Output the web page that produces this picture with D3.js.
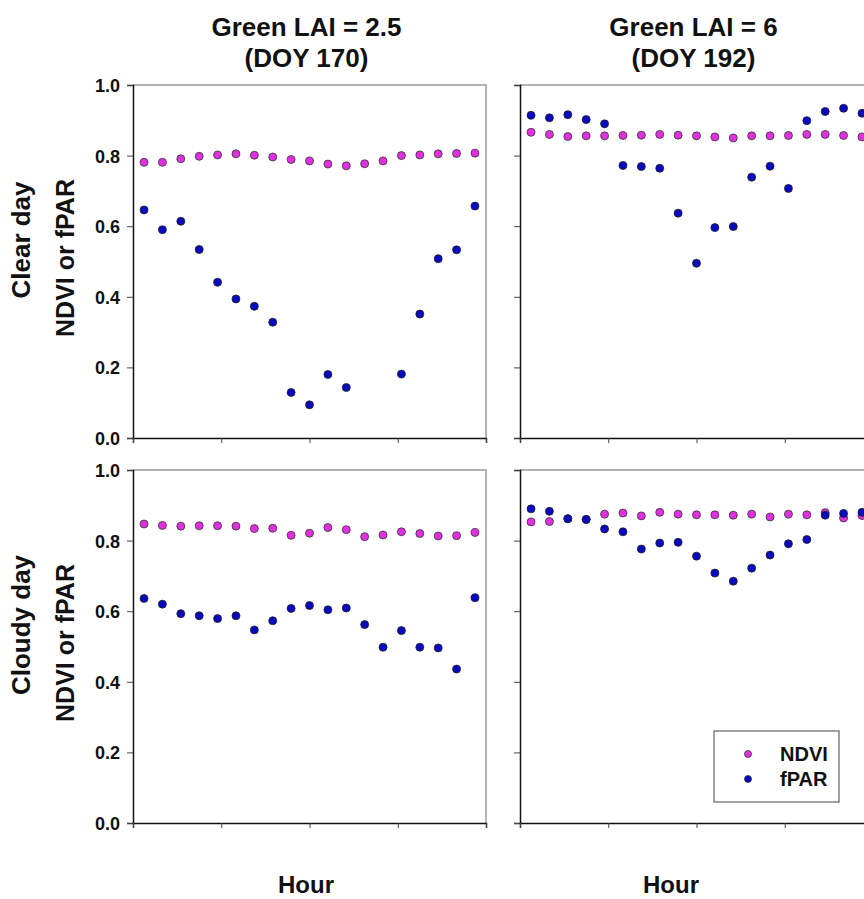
<!DOCTYPE html>
<html>
<head>
<meta charset="utf-8">
<script src="https://cdn.jsdelivr.net/npm/d3@7"></script>
<style>
  body { margin: 0; background: #fff; }
  svg { display: block; font-family: "Liberation Sans", Arial, sans-serif; }
  .tick-label { font-size: 18px; font-weight: bold; fill: #111; }
</style>
</head>
<body>
<div id="chart"></div>
<script>
// hour of each observation (half-hour steps)
const hours = [7.5, 8, 8.5, 9, 9.5, 10, 10.5, 11, 11.5, 12, 12.5, 13, 13.5, 14, 14.5, 15, 15.5, 16, 16.5];
const hourTicks = [7.2, 9.6, 12, 14.4, 16.8];
const yTicks = [0, 0.2, 0.4, 0.6, 0.8, 1.0];

const columnTitles = [['Green LAI = 2.5', '(DOY 170)'], ['Green LAI = 6', '(DOY 192)']];
const rowTitles = ['Clear day', 'Cloudy day'];

// clear day, LAI 2.5
const clearLowNdvi = [0.781, 0.781, 0.791, 0.798, 0.802, 0.805, 0.801, 0.796, 0.789, 0.785, 0.776, 0.771, 0.777, 0.785, 0.800, 0.802, 0.805, 0.806, 0.807];
const clearLowFpar = [0.646, 0.590, 0.614, 0.534, 0.441, 0.394, 0.373, 0.328, 0.129, 0.094, 0.180, 0.143, null, null, 0.181, 0.351, 0.508, 0.533, 0.657];
// clear day, LAI 6
const clearHighNdvi = [0.866, 0.860, 0.854, 0.856, 0.856, 0.857, 0.858, 0.860, 0.858, 0.856, 0.853, 0.850, 0.856, 0.856, 0.857, 0.860, 0.860, 0.857, 0.853];
const clearHighFpar = [0.914, 0.907, 0.916, 0.902, 0.890, 0.772, 0.769, 0.764, 0.637, 0.495, 0.596, 0.599, 0.739, 0.770, 0.707, 0.899, 0.925, 0.934, 0.920];
// cloudy day, LAI 2.5
const cloudyLowNdvi = [0.847, 0.843, 0.841, 0.842, 0.842, 0.841, 0.834, 0.835, 0.815, 0.821, 0.837, 0.831, 0.811, 0.816, 0.825, 0.820, 0.813, 0.814, 0.823];
const cloudyLowFpar = [0.636, 0.620, 0.593, 0.587, 0.579, 0.587, 0.547, 0.573, 0.608, 0.616, 0.604, 0.609, 0.562, 0.498, 0.545, 0.498, 0.496, 0.436, 0.638];
// cloudy day, LAI 6
const cloudyHighNdvi = [0.853, 0.854, 0.862, 0.860, 0.875, 0.878, 0.870, 0.880, 0.875, 0.873, 0.873, 0.872, 0.875, 0.867, 0.875, 0.873, 0.879, 0.864, 0.871];
const cloudyHighFpar = [0.890, 0.883, 0.862, 0.860, 0.833, 0.825, 0.776, 0.793, 0.795, 0.756, 0.708, 0.685, 0.722, 0.759, 0.791, 0.803, 0.872, 0.877, 0.880];

const panels = [
  {row: 0, col: 0, ndvi: clearLowNdvi, fpar: clearLowFpar},
  {row: 0, col: 1, ndvi: clearHighNdvi, fpar: clearHighFpar},
  {row: 1, col: 0, ndvi: cloudyLowNdvi, fpar: cloudyLowFpar},
  {row: 1, col: 1, ndvi: cloudyHighNdvi, fpar: cloudyHighFpar}
];

const ndviColor = '#e030e0',
      fparColor = '#0808c0',
      width = 353,
      height = 353,
      colX = [133, 520],
      rowY = [85, 470];

const svg = d3.select('#chart').append('svg')
  .attr('width', 864)
  .attr('height', 899);

const x = d3.scaleLinear().domain([7.2, 16.8]).range([0, width]);
const y = d3.scaleLinear().domain([0, 1]).range([height, 0]);

panels.forEach(p => {
  const g = svg.append('g')
    .attr('transform', 'translate(' + colX[p.col] + ',' + rowY[p.row] + ')');

  // gray top and right frame
  g.append('path')
    .attr('d', 'M0,0H' + width + 'V' + height)
    .attr('fill', 'none')
    .attr('stroke', '#9a9a9a')
    .attr('stroke-width', 1.5);

  const yAxis = d3.axisLeft(y).tickValues(yTicks).tickSize(6)
    .tickFormat(p.col === 0 ? d3.format('.1f') : '');
  const gy = g.append('g').call(yAxis);
  gy.select('.domain').attr('stroke', '#111').attr('stroke-width', 1.5);
  gy.selectAll('.tick line').attr('stroke', '#444');
  gy.selectAll('.tick text')
    .attr('class', 'tick-label')
    .attr('x', -13)
    .attr('dy', '0.36em')
    .style('font-family', null)
    .style('font-size', null);

  const xAxis = d3.axisBottom(x).tickValues(hourTicks).tickSize(5).tickFormat('');
  const gx = g.append('g').attr('transform', 'translate(0,' + height + ')').call(xAxis);
  gx.select('.domain').attr('stroke', '#111').attr('stroke-width', 1.5);
  gx.selectAll('.tick line').attr('stroke', '#444');

  const clip = 'clip' + p.row + p.col;
  g.append('clipPath').attr('id', clip)
    .append('rect').attr('x', -8).attr('y', -8).attr('width', width + 16).attr('height', height + 16);

  const dots = g.append('g').attr('clip-path', 'url(#' + clip + ')');

  dots.selectAll('circle.ndvi')
    .data(hours.map((h, i) => [h, p.ndvi[i]]).filter(d => d[1] != null))
    .enter()
    .append('circle')
      .attr('class', 'ndvi')
      .attr('cx', d => x(d[0]))
      .attr('cy', d => y(d[1]))
      .attr('r', 4)
      .attr('fill', ndviColor)
      .attr('stroke', '#333')
      .attr('stroke-width', 0.8);

  dots.selectAll('circle.fpar')
    .data(hours.map((h, i) => [h, p.fpar[i]]).filter(d => d[1] != null))
    .enter()
    .append('circle')
      .attr('class', 'fpar')
      .attr('cx', d => x(d[0]))
      .attr('cy', d => y(d[1]))
      .attr('r', 4)
      .attr('fill', fparColor)
      .attr('stroke', '#222')
      .attr('stroke-width', 0.8);
});

// column titles
columnTitles.forEach((t, i) => {
  const cx = colX[i] + width / 2 - 3;
  const txt = svg.append('text')
    .attr('x', cx)
    .attr('y', 36)
    .style('text-anchor', 'middle')
    .style('font-size', '26px')
    .style('font-weight', 'bold')
    .style('fill', '#111');
  txt.append('tspan').attr('x', cx).text(t[0]);
  txt.append('tspan').attr('x', cx).attr('dy', 31).text(t[1]);
});

// row titles
rowTitles.forEach((t, i) => {
  svg.append('text')
    .attr('transform', 'translate(30,' + (rowY[i] + 155) + ') rotate(-90)')
    .style('text-anchor', 'middle')
    .style('font-size', '26px')
    .style('font-weight', 'bold')
    .style('fill', '#111')
    .text(t);
  svg.append('text')
    .attr('transform', 'translate(74,' + (rowY[i] + 173) + ') rotate(-90)')
    .style('text-anchor', 'middle')
    .style('font-size', '25px')
    .style('font-weight', 'bold')
    .style('fill', '#111')
    .text('NDVI or fPAR');
});

// x axis titles
[306, 671].forEach(cx => {
  svg.append('text')
    .attr('x', cx)
    .attr('y', 893)
    .style('text-anchor', 'middle')
    .style('font-size', '24px')
    .style('font-weight', 'bold')
    .style('fill', '#111')
    .text('Hour');
});

// legend
const legend = svg.append('g').attr('transform', 'translate(714,731)');
legend.append('rect')
  .attr('width', 125)
  .attr('height', 71)
  .attr('fill', '#fff')
  .attr('stroke', '#444')
  .attr('stroke-width', 1);
[['NDVI', ndviColor], ['fPAR', fparColor]].forEach((d, i) => {
  legend.append('circle')
    .attr('cx', 34)
    .attr('cy', 23 + i * 25)
    .attr('r', 3.5)
    .attr('fill', d[1])
    .attr('stroke', '#333')
    .attr('stroke-width', 0.8);
  legend.append('text')
    .attr('x', 66)
    .attr('y', 30 + i * 25)
    .style('font-size', '20px')
    .style('font-weight', 'bold')
    .style('fill', '#111')
    .text(d[0]);
});
</script>
</body>
</html>
